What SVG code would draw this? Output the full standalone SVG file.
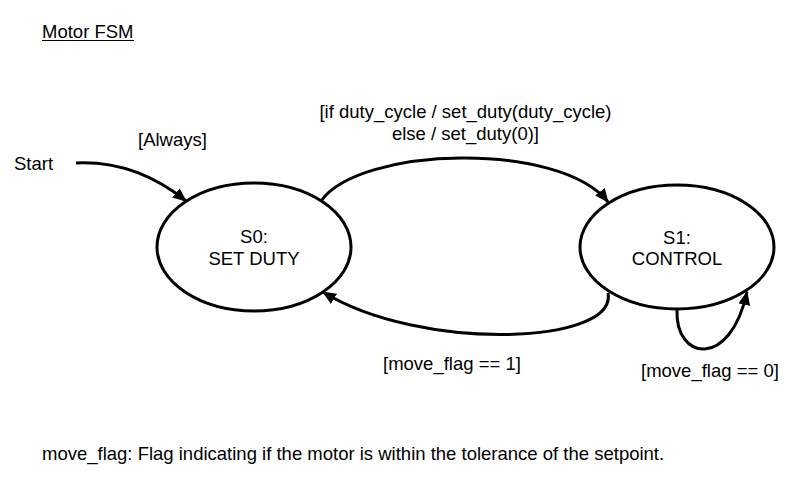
<svg xmlns="http://www.w3.org/2000/svg" width="800" height="485" viewBox="0 0 800 485">
<style>
text{font-family:"Liberation Sans",Arial,sans-serif;font-size:18.5px;fill:#000}
.c{text-anchor:middle}
.st{fill:#fff;stroke:#000;stroke-width:3}
.e{fill:none;stroke:#000;stroke-width:3}
</style>
<defs>
<marker id="ah" markerUnits="userSpaceOnUse" markerWidth="14" markerHeight="12" refX="13" refY="6" orient="auto">
<path d="M0,0 L14,6 L0,12 z" fill="#000"/>
</marker>
</defs>
<rect width="800" height="485" fill="#fff"/>
<g id="title">
<text x="42" y="38">Motor FSM</text>
<line x1="42" y1="40.5" x2="134" y2="40.5" stroke="#000" stroke-width="1.2"/>
</g>
<g id="connectors">
<path class="e" d="M76,163 C120,161 155,176 186,201" marker-end="url(#ah)"/>
<path class="e" d="M321,201 C360,146 560,141 608,202" marker-end="url(#ah)"/>
<path class="e" d="M608,293 C618,345 420,352 323,292" marker-end="url(#ah)"/>
<path class="e" d="M677,310 C675,360 730,370 747,292" marker-end="url(#ah)"/>
</g>
<g id="start"><text x="14" y="170">Start</text></g>
<g id="S0">
<ellipse class="st" cx="254" cy="247" rx="97" ry="64"/>
<text class="c" x="254" y="243">S0:</text>
<text class="c" x="254" y="265">SET DUTY</text>
</g>
<g id="S1">
<ellipse class="st" cx="677" cy="247" rx="97" ry="62"/>
<text class="c" x="677" y="244">S1:</text>
<text class="c" x="677" y="265">CONTROL</text>
</g>
<g id="labels">
<text x="138" y="146">[Always]</text>
<text class="c" x="465.5" y="118">[if duty_cycle / set_duty(duty_cycle)</text>
<text class="c" x="465.5" y="140">else / set_duty(0)]</text>
<text x="383" y="370">[move_flag == 1]</text>
<text x="641" y="377">[move_flag == 0]</text>
</g>
<g id="note"><text x="42" y="460">move_flag: Flag indicating if the motor is within the tolerance of the setpoint.</text></g>
</svg>
